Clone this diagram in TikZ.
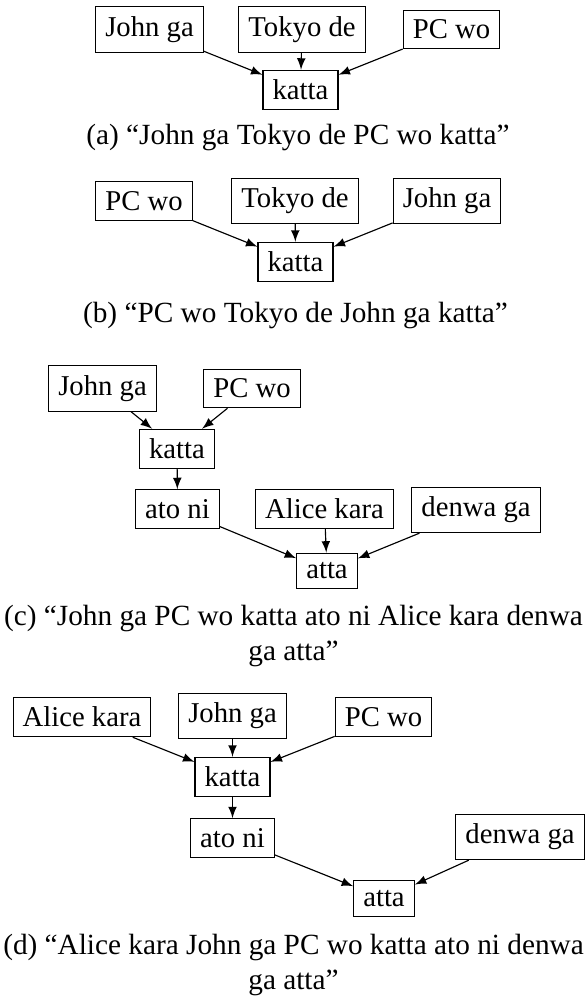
\documentclass[tikz,border=0pt]{standalone}
\usepackage{fontspec}
\setmainfont{Liberation Serif}
\tikzset{
	word/.style = {draw, thin, inner sep = 3.33pt},
	subcap/.style = {anchor = base, inner sep = 0pt, align = center, font = \fontsize{10.2}{12}\selectfont},
	>=latex
}
\begin{document}
\begin{tikzpicture}[x=0.3484pt, y=-0.3484pt]
	\useasboundingbox (0,0) rectangle (587,996);
	% (a)
	\node[word] (ajohn) at (149.5,29.5) {John ga};
	\node[word] (atokyo) at (302,29.5) {Tokyo de};
	\node[word] (apc) at (451.5,29.5) {PC wo};
	\node[word] (akatta) at (300.5,90) {katta};
	\draw[->] (ajohn) -- (akatta);
	\draw[->] (atokyo) -- (akatta);
	\draw[->] (apc) -- (akatta);
	\node[subcap] (acap) at (298,144.5) {(a) ``John ga Tokyo de PC wo katta''};
	% (b)
	\node[word] (bpc) at (144,201) {PC wo};
	\node[word] (btokyo) at (295,201) {Tokyo de};
	\node[word] (bjohn) at (447,201) {John ga};
	\node[word] (bkatta) at (295.5,262) {katta};
	\draw[->] (bpc) -- (bkatta);
	\draw[->] (btokyo) -- (bkatta);
	\draw[->] (bjohn) -- (bkatta);
	\node[subcap] (bcap) at (295.5,322.5) {(b) ``PC wo Tokyo de John ga katta''};
	% (c)
	\node[word] (cjohn) at (102.5,388.5) {John ga};
	\node[word] (cpc) at (252,388.5) {PC wo};
	\node[word] (ckatta) at (177,449) {katta};
	\node[word] (cato) at (177.5,509) {ato ni};
	\node[word] (calice) at (324.5,509) {Alice kara};
	\node[word] (cdenwa) at (476,510) {denwa ga};
	\node[word] (catta) at (327,571) {atta};
	\draw[->] (cjohn) -- (ckatta);
	\draw[->] (cpc) -- (ckatta);
	\draw[->] (ckatta) -- (cato);
	\draw[->] (cato) -- (catta);
	\draw[->] (calice) -- (catta);
	\draw[->] (cdenwa) -- (catta);
	\node[subcap] (ccap) at (293.5,660) {(c) ``John ga PC wo katta ato ni Alice kara denwa\\ga atta''};
	% (d)
	\node[word] (dalice) at (82,717) {Alice kara};
	\node[word] (djohn) at (232.5,716) {John ga};
	\node[word] (dpc) at (383.5,717) {PC wo};
	\node[word] (dkatta) at (232.5,777) {katta};
	\node[word] (dato) at (232.5,838) {ato ni};
	\node[word] (ddenwa) at (520,837) {denwa ga};
	\node[word] (datta) at (384,898.5) {atta};
	\draw[->] (dalice) -- (dkatta);
	\draw[->] (djohn) -- (dkatta);
	\draw[->] (dpc) -- (dkatta);
	\draw[->] (dkatta) -- (dato);
	\draw[->] (dato) -- (datta);
	\draw[->] (ddenwa) -- (datta);
	\node[subcap] (dcap) at (293.5,989) {(d) ``Alice kara John ga PC wo katta ato ni denwa\\ga atta''};
\end{tikzpicture}
\end{document}
